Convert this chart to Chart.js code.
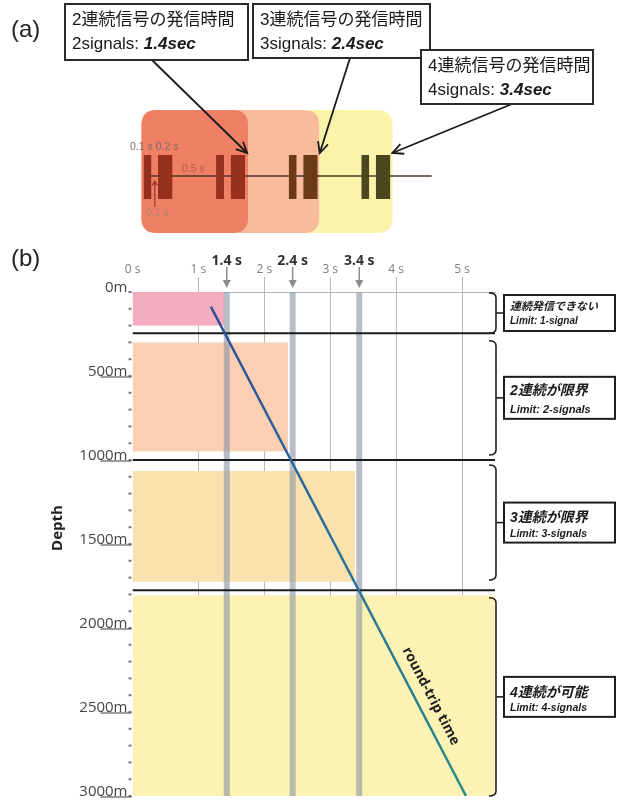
<!DOCTYPE html>
<html><head><meta charset="utf-8">
<script src="https://cdn.jsdelivr.net/npm/chart.js@4"></script>
<style>
body{margin:0;background:#fff;}
#wrap{position:relative;width:618px;height:801px;overflow:hidden;}
canvas{position:absolute;left:0;top:0;}
</style></head>
<body><div id="wrap"><canvas id="cb" width="618" height="801"></canvas><canvas id="ca" width="618" height="250"></canvas></div>
<script>
// ================= DATA: panel (b) =================
const timeTickLabels = ['0 s','1 s','2 s','3 s','4 s','5 s'];
const depthTicks = [0,500,1000,1500,2000,2500,3000];
const depthTickLabels = ['0m','500m','1000m','1500m','2000m','2500m','3000m'];
const zoneEndTimes = [1.39, 2.36, 3.38, 5.5];      // s
const zoneTopDepths = [0, 300, 1065, 1805];         // m
const zoneBottomDepths = [200, 950, 1725, 3000];    // m
const limitDepths = [245, 1000, 1775];              // m (black lines)
const sendTimes = [1.43, 2.43, 3.44];               // s (grey bands)
const sendTimeLabels = ['1.4 s','2.4 s','3.4 s'];
const roundTripTimes = [1.19, 5.06];
const roundTripDepths = [88, 3000];
const braceTopDepths = [5, 290, 1030, 1820];
const braceBottomDepths = [245, 970, 1715, 3000];
const limitLabelsJa = ['連続発信できない','2連続が限界','3連続が限界','4連続が可能'];
const limitLabelsEn = ['Limit: 1-signal','Limit: 2-signals','Limit: 3-signals','Limit: 4-signals'];

// ================= DATA: panel (a) =================
const pulseStarts = [0, 0.2, 1.0, 1.2, 2.0, 2.2, 3.0, 3.2];
const pulseEnds   = [0.11, 0.4, 1.11, 1.4, 2.11, 2.4, 3.11, 3.4];
const pulseGroups = [0, 0, 1, 1, 2, 2, 3, 3];
const windowEnds  = [1.44, 2.42, 3.43];
const signalLineEnd = 3.97;
const signalBoxJa = ['2連続信号の発信時間','3連続信号の発信時間','4連続信号の発信時間'];
const signalBoxEn = ['2signals: ','3signals: ','4signals: '];
const signalBoxTime = ['1.4sec','2.4sec','3.4sec'];
const signalBoxPulse = [3, 5, 7];

// ================= STYLES =================
const zoneColors = ['#f4adbf','#fbcfb3','#f9e2ae','#fcf2b3'];
const pulseColors = ['#962f1d','#98301e','#6b3a18','#4b461b'];
const windowColors = ['#ef8066','#f9bb9c','#fbf3ab'];
const LATIN = '"Liberation Sans", Arial, "Noto Sans CJK JP"';
const OPEN = '"Open Sans", "Noto Sans CJK JP"';

function rrect(ctx,x,y,w,h,r){
  ctx.beginPath();
  ctx.moveTo(x+r,y); ctx.lineTo(x+w-r,y); ctx.quadraticCurveTo(x+w,y,x+w,y+r);
  ctx.lineTo(x+w,y+h-r); ctx.quadraticCurveTo(x+w,y+h,x+w-r,y+h);
  ctx.lineTo(x+r,y+h); ctx.quadraticCurveTo(x,y+h,x,y+h-r);
  ctx.lineTo(x,y+r); ctx.quadraticCurveTo(x,y,x+r,y); ctx.closePath();
}
function arrow(ctx,x1,y1,x2,y2,L,w){
  ctx.beginPath(); ctx.moveTo(x1,y1); ctx.lineTo(x2,y2); ctx.stroke();
  const a=Math.atan2(y2-y1,x2-x1);
  ctx.beginPath();
  ctx.moveTo(x2-L*Math.cos(a-w), y2-L*Math.sin(a-w)); ctx.lineTo(x2,y2);
  ctx.lineTo(x2-L*Math.cos(a+w), y2-L*Math.sin(a+w)); ctx.stroke();
}

// ================= CHART (b) =================
const dsB = [];
zoneEndTimes.forEach((t,i)=>{
  dsB.push({data:[{x:0,y:zoneBottomDepths[i]},{x:t,y:zoneBottomDepths[i]}],
    fill:{value:zoneTopDepths[i]}, backgroundColor:zoneColors[i], borderColor:'rgba(0,0,0,0)',
    borderWidth:0, pointRadius:0, order:5});
});
sendTimes.forEach(t=>{
  dsB.push({data:[{x:t,y:0},{x:t,y:3000}], borderColor:'rgba(140,150,165,0.62)', borderWidth:6,
    pointRadius:0, fill:false, order:4});
});
limitDepths.forEach(d=>{
  dsB.push({data:[{x:0,y:d},{x:5.5,y:d}], borderColor:'#1c1c1c', borderWidth:2,
    pointRadius:0, fill:false, order:3});
});
dsB.push({data:roundTripTimes.map((t,i)=>({x:t,y:roundTripDepths[i]})), borderWidth:2.5,
  pointRadius:0, fill:false, order:1,
  borderColor:(c)=>{
    const ca=c.chart.chartArea; if(!ca) return '#2a6090';
    const g=c.chart.ctx.createLinearGradient(0,ca.top,0,ca.bottom);
    g.addColorStop(0,'#2c4a94'); g.addColorStop(0.45,'#2a6a9c'); g.addColorStop(1,'#2b8a86');
    return g;
  }});

const annoB = {
  id:'annoB',
  afterDraw(chart){
    const {ctx, scales:{x,y}, chartArea:ca} = chart;
    ctx.save();
    // minor ticks every 100 m
    ctx.fillStyle='#7a7a7a';
    for(let d=0; d<=3000; d+=100){ const py=y.getPixelForValue(d); ctx.fillRect(ca.left-4, py-1, 3, 2); }
    // depth labels
    ctx.font='15px '+OPEN; ctx.fillStyle='#454545'; ctx.textAlign='right'; ctx.textBaseline='alphabetic';
    ctx.strokeStyle='#5a5a5a'; ctx.lineWidth=1.2;
    depthTicks.forEach((d,i)=>{
      const py=y.getPixelForValue(d);
      ctx.fillText(depthTickLabels[i], ca.left-5, py);
      if(d>0){ ctx.beginPath(); ctx.moveTo(ca.left-32, py+1); ctx.lineTo(ca.left-1, py+1); ctx.stroke(); }
    });
    // axis title
    ctx.save(); ctx.translate(58, 528); ctx.rotate(-Math.PI/2);
    ctx.font='bold 15px '+OPEN; ctx.fillStyle='#222'; ctx.textAlign='center'; ctx.textBaseline='middle';
    ctx.fillText('Depth',0,0); ctx.restore();
    // send-time markers
    sendTimes.forEach((t,i)=>{
      const px=x.getPixelForValue(t);
      ctx.font='bold 14px '+OPEN; ctx.fillStyle='#333'; ctx.textAlign='center'; ctx.textBaseline='alphabetic';
      ctx.fillText(sendTimeLabels[i], px, 265);
      ctx.strokeStyle='#8c8c8c'; ctx.lineWidth=1.5;
      ctx.beginPath(); ctx.moveTo(px,267); ctx.lineTo(px,282); ctx.stroke();
      ctx.fillStyle='#8c8c8c'; ctx.beginPath(); ctx.moveTo(px-4,280); ctx.lineTo(px+4,280); ctx.lineTo(px,288); ctx.closePath(); ctx.fill();
    });
    // braces and limit boxes
    const boxH=[36,42,40,40], jaSize=[11,14,14,14], enSize=[10,11,10.5,10.5];
    const jaOff=[-3,-3,-1,0], enOff=[11,15,14,14];
    braceTopDepths.forEach((d0,i)=>{
      const top=y.getPixelForValue(d0), bot=y.getPixelForValue(braceBottomDepths[i]), mid=(top+bot)/2;
      const bx=ca.right+1;
      ctx.strokeStyle='#222'; ctx.lineWidth=1.6;
      ctx.beginPath(); ctx.moveTo(bx-7,top); ctx.quadraticCurveTo(bx,top,bx,top+5);
      ctx.lineTo(bx,bot-5); ctx.quadraticCurveTo(bx,bot,bx-7,bot); ctx.stroke();
      ctx.beginPath(); ctx.moveTo(bx,mid); ctx.lineTo(504,mid); ctx.stroke();
      const h=boxH[i];
      ctx.fillStyle='#fff'; ctx.fillRect(504,mid-h/2,111,h);
      ctx.lineWidth=2; ctx.strokeStyle='#1e1e1e'; ctx.strokeRect(504,mid-h/2,111,h);
      ctx.fillStyle='#1a1a1a'; ctx.textAlign='left'; ctx.textBaseline='alphabetic';
      ctx.font='italic bold '+jaSize[i]+'px '+LATIN; ctx.fillText(limitLabelsJa[i], 510, mid+jaOff[i]);
      ctx.font='italic bold '+enSize[i]+'px '+LATIN; ctx.fillText(limitLabelsEn[i], 510, mid+enOff[i]);
    });
    // round-trip label along the line
    const p0x=x.getPixelForValue(roundTripTimes[0]), p0y=y.getPixelForValue(roundTripDepths[0]);
    const p1x=x.getPixelForValue(roundTripTimes[1]), p1y=y.getPixelForValue(roundTripDepths[1]);
    const dx=p1x-p0x, dy=p1y-p0y, len=Math.hypot(dx,dy), ang=Math.atan2(dy,dx);
    const f=0.81, cx=p0x+dx*f+dy/len*15, cy=p0y+dy*f-dx/len*15;
    ctx.save(); ctx.translate(cx,cy); ctx.rotate(ang);
    ctx.font='bold 14px '+OPEN; ctx.fillStyle='#1e1e1e'; ctx.textAlign='center'; ctx.textBaseline='middle';
    ctx.fillText('round-trip time',0,0); ctx.restore();
    // panel letter
    ctx.font='24px '+LATIN; ctx.fillStyle='#222'; ctx.textAlign='left'; ctx.textBaseline='alphabetic';
    ctx.fillText('(b)', 11, 266);
    ctx.restore();
  }
};

new Chart(document.getElementById('cb'), {
  type:'line',
  data:{datasets:dsB},
  options:{
    responsive:false, animation:false, events:[],
    layout:{padding:{left:132.5, right:123, top:258, bottom:5}},
    elements:{line:{tension:0}, point:{radius:0}},
    plugins:{legend:{display:false}, tooltip:{enabled:false}},
    scales:{
      x:{type:'linear', position:'top', min:0, max:5.5, z:1,
        afterBuildTicks:(s)=>{ s.ticks = s.ticks.filter(t=>Number.isInteger(t.value)); },
        afterFit:(s)=>{ s.height=34; },
        ticks:{stepSize:1, padding:0, autoSkip:false, maxRotation:0, color:'#7e7e7e',
          font:{family:'"Open Sans"', size:12}, callback:(v)=>timeTickLabels[Math.round(v)]},
        grid:{tickLength:15, lineWidth:1,
          color:(c)=> (c.tick && c.tick.value===0) ? 'rgba(0,0,0,0)' : 'rgba(125,112,112,0.5)'},
        border:{display:true, color:'rgba(120,120,120,0.55)', width:1}},
      y:{type:'linear', display:false, min:0, max:3000, reverse:true}
    }
  },
  plugins:[annoB]
});

// ================= CHART (a) =================
const PX_PER_S=72.6, T0=143.5, PULSE_TOP=155, PULSE_BOT=199;
const unit=PULSE_BOT-PULSE_TOP;
const dsA=[];
dsA.push({data:[{x:0,y:0.52},{x:signalLineEnd,y:0.52}], borderColor:'#4e3526', borderWidth:1.5, pointRadius:0, fill:false, order:3});
pulseStarts.forEach((s,i)=>{
  dsA.push({data:[{x:s,y:1},{x:pulseEnds[i],y:1}], fill:{value:0}, backgroundColor:pulseColors[pulseGroups[i]],
    borderColor:'rgba(0,0,0,0)', borderWidth:0, pointRadius:0, order:1});
});

const annoA = {
  id:'annoA',
  beforeDatasetsDraw(chart){
    const {ctx, scales:{x}} = chart;
    const left=x.getPixelForValue(0)-2;
    ctx.save();
    for(let i=windowEnds.length-1;i>=0;i--){
      rrect(ctx,left,110,x.getPixelForValue(windowEnds[i])-left,123,15);
      ctx.fillStyle=windowColors[i]; ctx.fill();
    }
    ctx.restore();
  },
  afterDatasetsDraw(chart){
    const {ctx, scales:{x}} = chart;
    ctx.save();
    // duration labels
    ctx.textAlign='left'; ctx.textBaseline='alphabetic';
    ctx.font='10.5px '+LATIN; ctx.fillStyle='#7e6a66'; ctx.fillText('0.1 s 0.2 s', 130, 150);
    ctx.fillStyle='#b3614c'; ctx.fillText('0.5 s', 182, 172);
    ctx.fillStyle='#b98076'; ctx.fillText('0.1 s', 146, 216);
    ctx.strokeStyle='#8e3a2a'; ctx.lineWidth=1.2;
    const gx=(x.getPixelForValue(pulseEnds[0])+x.getPixelForValue(pulseStarts[1]))/2;
    arrow(ctx,gx,207,gx,181,5,0.5);
    // (a)
    ctx.font='24px '+LATIN; ctx.fillStyle='#222'; ctx.fillText('(a)', 11, 37);
    // boxes
    const rects=[[65,4,183,56],[253,4,177,54],[421,50,172,54]];
    const starts=[[152,60],[350,58],[512,104]];
    ctx.strokeStyle='#1a1a1a'; ctx.lineWidth=1.8;
    signalBoxJa.forEach((t,i)=>{
      const tx=x.getPixelForValue(pulseEnds[signalBoxPulse[i]])+2;
      arrow(ctx,starts[i][0],starts[i][1],tx,153,12,0.45);
    });
    signalBoxJa.forEach((t,i)=>{
      const [bx,by,bw,bh]=rects[i];
      ctx.fillStyle='#fff'; ctx.fillRect(bx,by,bw,bh);
      ctx.lineWidth=2; ctx.strokeStyle='#2a2a2a'; ctx.strokeRect(bx,by,bw,bh);
      ctx.fillStyle='#1a1a1a';
      ctx.font='17px '+LATIN; ctx.fillText(t, bx+7, by+21);
      ctx.fillText(signalBoxEn[i], bx+7, by+45);
      const w=ctx.measureText(signalBoxEn[i]).width;
      ctx.font='italic bold 17px '+LATIN; ctx.fillText(signalBoxTime[i], bx+7+w, by+45);
    });
    ctx.restore();
  }
};

new Chart(document.getElementById('ca'), {
  type:'line',
  data:{datasets:dsA},
  options:{
    responsive:false, animation:false, events:[],
    layout:{padding:0},
    plugins:{legend:{display:false}, tooltip:{enabled:false}},
    elements:{line:{tension:0}, point:{radius:0}},
    scales:{
      x:{type:'linear', display:false, min:-T0/PX_PER_S, max:(618-T0)/PX_PER_S},
      y:{type:'linear', display:false, min:-(250-PULSE_BOT)/unit, max:1+PULSE_TOP/unit}
    }
  },
  plugins:[annoA]
});
</script></body></html>
